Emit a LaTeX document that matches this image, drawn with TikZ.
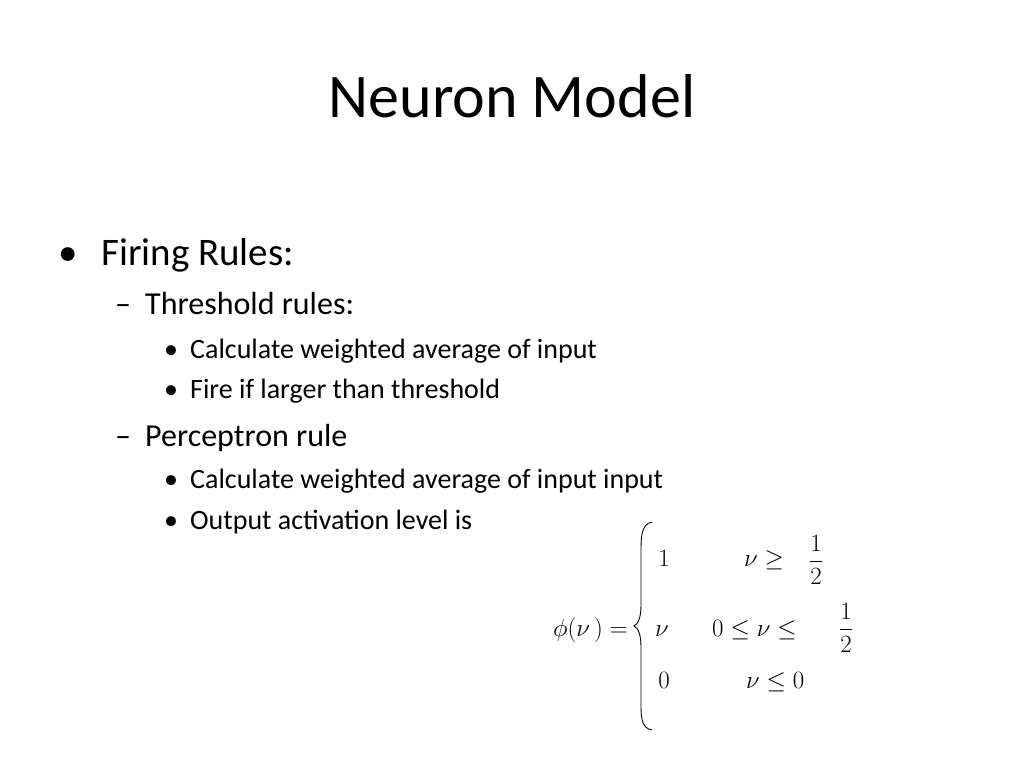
\documentclass[tikz,border=0pt]{standalone}
\usepackage{fontspec}
\usepackage{amsmath}
\setmainfont{Carlito}
\begin{document}
\begin{tikzpicture}[x=1pt,y=-1pt,
  t/.style={anchor=base west,inner sep=0pt},
  l1/.style={t,font=\fontsize{39}{44}\selectfont},
  l2/.style={t,font=\fontsize{32}{36}\selectfont},
  l3/.style={t,font=\fontsize{28}{32}\selectfont},
  m/.style={anchor=base,inner sep=0pt,font=\fontsize{34}{40}\selectfont}]
\useasboundingbox[fill=white] (0,0) rectangle (1024,768);
\node[anchor=base,inner sep=0pt,font=\fontsize{62}{70}\selectfont] (title) at (512,117) {Neuron Model};
\node[l1] (b1) at (58,265) {•};
\node[l1] (t1) at (101,265) {Firing Rules:};
\node[l2] (b2) at (115,314) {–};
\node[l2] (t2) at (145,314) {Threshold rules:};
\node[l3] (b3) at (164,358) {•};
\node[l3] (t3) at (190,358) {Calculate weighted average of input};
\node[l3] (b4) at (164,398) {•};
\node[l3] (t4) at (190,398) {Fire if larger than threshold};
\node[l2] (b5) at (115,446) {–};
\node[l2] (t5) at (145,446) {Perceptron rule};
\node[l3] (b6) at (164,488) {•};
\node[l3] (t6) at (190,488) {Calculate weighted average of input input};
\node[l3] (b7) at (164,529) {•};
\node[l3] (t7) at (190,529) {Output activation level is};
% equation
\node[m,anchor=base east] (lhs) at (628,636) {$\phi(\nu\,)=$};
\draw[line width=0.9pt] (652,522) .. controls (640,524) and (641,540) .. (641,560)
  -- (641,605) .. controls (641,618) and (638,624) .. (634,626)
  .. controls (638,628) and (641,634) .. (641,647)
  -- (641,695) .. controls (641,715) and (640,728) .. (652,730);
\node[m] (r1a) at (664,566) {$1$};
\node[m,anchor=base west] (r1b) at (744,566) {$\nu\geq$};
\node[m,anchor=center] (f1) at (816,560) {$\dfrac{1}{2}$};
\node[m] (r2a) at (662,636) {$\nu$};
\node[m,anchor=base west] (r2b) at (712,636) {$0\leq\nu\leq$};
\node[m,anchor=center] (f2) at (846,628) {$\dfrac{1}{2}$};
\node[m] (r3a) at (664,688) {$0$};
\node[m,anchor=base west] (r3b) at (746,688) {$\nu\leq 0$};
\end{tikzpicture}
\end{document}
